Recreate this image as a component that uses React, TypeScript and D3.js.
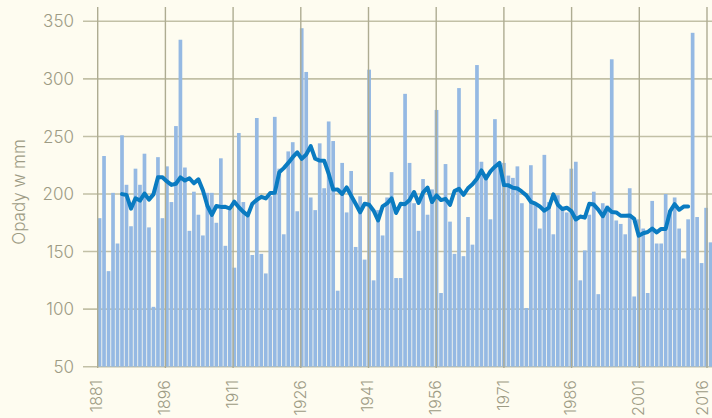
import React from 'react';
import * as d3 from 'd3';

// Annual precipitation (mm), one value per year starting at 1881
const firstYear = 1881;
const rainfall = [
  179, 233, 133, 201, 157, 251, 208, 172, 222, 208, // 1881-1890
  235, 171, 102, 232, 179, 224, 193, 259, 334, 223, // 1891-1900
  168, 202, 182, 164, 201, 201, 175, 231, 155, 186, // 1901-1910
  136, 253, 193, 183, 147, 266, 148, 131, 198, 267, // 1911-1920
  222, 165, 237, 245, 185, 344, 306, 197, 186, 244, // 1921-1930
  205, 263, 246, 116, 227, 184, 220, 154, 198, 143, // 1931-1940
  308, 125, 186, 164, 197, 219, 127, 127, 287, 227, // 1941-1950
  192, 168, 213, 182, 204, 273, 114, 226, 176, 148, // 1951-1960
  292, 146, 180, 156, 312, 228, 213, 178, 265, 228, // 1961-1970
  227, 216, 214, 224, 192, 101, 225, 191, 170, 234, // 1971-1980
  193, 165, 199, 186, 184, 222, 228, 125, 151, 182, // 1981-1990
  202, 113, 192, 190, 317, 177, 174, 165, 205, 111, // 1991-2000
  178, 170, 114, 194, 157, 157, 200, 186, 197, 170, // 2001-2010
  144, 178, 340, 180, 140, 188, 158,                // 2011-2017
];

// 11-year centred trend line (mm), starting at 1886
const trendFirstYear = 1886;
const trend = [
  199.9, 199.2, 187.3, 196.3, 194.3, 200.4, 195.1, 199.7, 214.5, 214.5, // 1886-1895
  210.9, 207.9, 208.9, 214.5, 211.7, 213.7, 209.3, 212.7, 203.3, 189.8, // 1896-1905
  181.9, 189.6, 188.8, 188.9, 187.4, 193.3, 188.5, 184.5, 181.5, 191.6, // 1906-1915
  194.9, 197.5, 196.1, 200.8, 201.0, 218.9, 222.5, 227.0, 232.0, 236.2, // 1916-1925
  230.5, 234.3, 241.6, 230.6, 229.0, 228.9, 217.6, 203.8, 203.9, 200.0, // 1926-1935
  205.8, 198.5, 191.5, 184.1, 191.5, 190.7, 185.5, 177.1, 189.2, 191.8, // 1936-1945
  196.3, 183.5, 191.5, 191.2, 194.8, 201.7, 192.2, 201.2, 205.6, 193.0, // 1946-1955
  198.9, 194.7, 195.8, 190.6, 202.5, 204.6, 199.2, 205.0, 208.5, 213.3, // 1956-1965
  220.5, 213.5, 219.7, 223.7, 227.0, 207.8, 207.5, 205.5, 204.8, 202.0, // 1966-1975
  198.8, 193.2, 191.6, 189.1, 185.5, 188.2, 199.7, 190.6, 187.0, 188.1, // 1976-1985
  185.2, 177.9, 180.4, 179.5, 191.5, 190.8, 186.5, 180.7, 188.0, 184.4, // 1986-1995
  184.0, 181.1, 181.2, 181.4, 178.4, 163.8, 165.9, 167.0, 169.9, 166.7, // 1996-2005
  169.7, 169.7, 185.2, 191.2, 186.3, 189.1, 189.2,                     // 2006-2012
];

const tickYears = [1881, 1896, 1911, 1926, 1941, 1956, 1971, 1986, 2001, 2016];
const yTicks = [50, 100, 150, 200, 250, 300, 350];
const yTitle = 'Opady w mm';

const W = 712;
const H = 418;
const COLORS = {
  bg: '#fefcf0',
  hgrid: '#c2c0a6',
  vgrid: '#aeac92',
  text: '#9d9b84',
  bar: '#95b9e3',
  line: '#0a7bc1',
};
const FONT = 'Inter, Roboto, "Noto Sans", sans-serif';

export default function App() {
  const years = rainfall.map((_, i) => firstYear + i);
  const step = 4.493;
  const x = d3
    .scaleBand<number>()
    .domain(years)
    .range([97.3, 97.3 + years.length * step])
    .paddingInner(0.18)
    .paddingOuter(0.09);
  const xGrid = d3.scaleLinear().domain([1881, 2016]).range([97.7, 707]);
  const y = d3.scaleLinear().domain([50, 350]).range([366.7, 21.3]);

  const linePath = d3
    .line<number>()
    .x((_, i) => (x(trendFirstYear + i) as number) + x.bandwidth() / 2)
    .y((d) => y(d))(trend);

  return (
    <svg
      width={W}
      height={H}
      style={{ position: 'absolute', left: 0, top: 0, display: 'block' }}
      fontFamily={FONT}
    >
      <rect x={0} y={0} width={W} height={H} fill={COLORS.bg} />

      {yTicks.map((t) => (
        <line
          key={'h' + t}
          x1={83}
          x2={W}
          y1={y(t)}
          y2={y(t)}
          stroke={COLORS.hgrid}
          strokeWidth={1.6}
        />
      ))}

      {rainfall.map((v, i) => {
        const yr = years[i];
        return (
          <rect
            key={yr}
            x={x(yr)}
            y={y(v)}
            width={x.bandwidth()}
            height={y(50) - y(v)}
            fill={COLORS.bar}
          />
        );
      })}

      {tickYears.map((t) => (
        <line
          key={'v' + t}
          x1={xGrid(t)}
          x2={xGrid(t)}
          y1={7}
          y2={368}
          stroke={COLORS.vgrid}
          strokeWidth={1.4}
        />
      ))}

      <path
        d={linePath || ''}
        fill="none"
        stroke={COLORS.line}
        strokeWidth={4}
        strokeLinejoin="round"
        strokeLinecap="round"
      />

      {yTicks.map((t) => (
        <text
          key={'yl' + t}
          x={74}
          y={y(t)}
          dy="0.36em"
          textAnchor="end"
          fontSize={17}
          fontWeight={300}
          fill={COLORS.text}
        >
          {t}
        </text>
      ))}

      {tickYears.map((t) => (
        <text
          key={'xl' + t}
          transform={`translate(${Math.min(xGrid(t) - 1, 702.5)},380) rotate(-90)`}
          dy="0.36em"
          textAnchor="end"
          fontSize={16}
          fontWeight={300}
          fill={COLORS.text}
        >
          {t}
        </text>
      ))}

      <text
        transform={`translate(19,192) rotate(-90)`}
        dy="0.36em"
        textAnchor="middle"
        fontSize={17}
        fontWeight={300}
        fill={COLORS.text}
      >
        {yTitle}
      </text>
    </svg>
  );
}
